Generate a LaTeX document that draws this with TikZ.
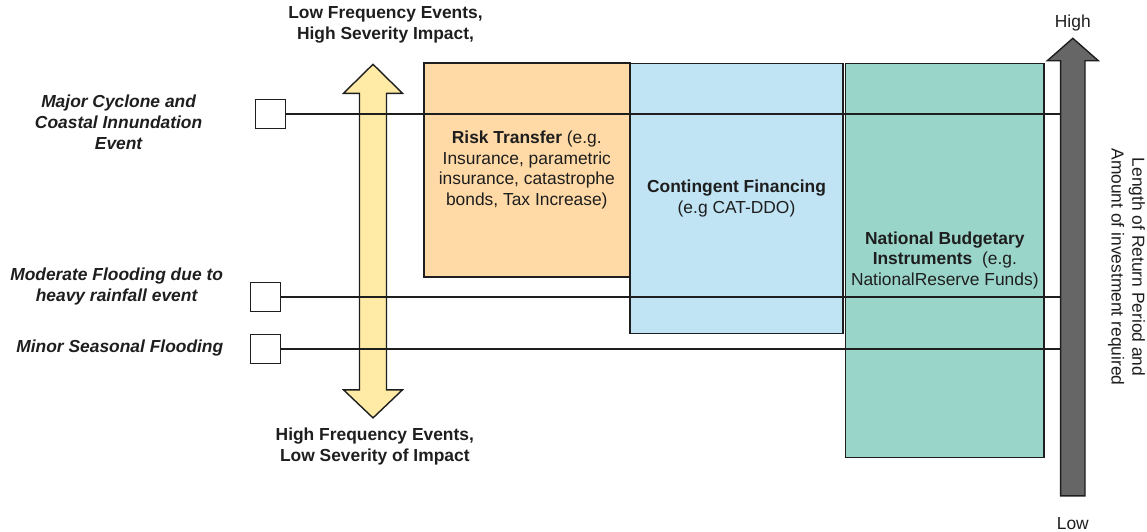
\documentclass[tikz,border=0pt]{standalone}
\usepackage{fontspec}
\setmainfont{Liberation Sans}
\definecolor{orangefill}{HTML}{FFDAA6}
\definecolor{bluefill}{HTML}{C1E4F5}
\definecolor{greenfill}{HTML}{9AD5CA}
\definecolor{yellowfill}{HTML}{FFEBA5}
\definecolor{greyfill}{HTML}{666666}
\definecolor{inkc}{HTML}{1E1E1E}
\begin{document}
\begin{tikzpicture}[x=1pt,y=-1pt,
  txt/.style={font=\fontsize{17.4}{20.8}\selectfont, align=center, inner sep=0pt, text=inkc},
  evt/.style={txt, font=\fontsize{17.4}{20.8}\selectfont\bfseries\itshape},
  hdr/.style={txt, font=\fontsize{17.4}{20.8}\selectfont\bfseries},
  panel/.style={draw=inkc, line width=1.6pt, txt, inner sep=0pt},
  evbox/.style={draw=inkc, line width=1.6pt, fill=white, minimum width=30pt, minimum height=29pt, inner sep=0pt},
  link/.style={draw=inkc, line width=1.8pt},
  bigarrow/.style={draw=inkc, line width=1.4pt}
]
\useasboundingbox (0,0) rectangle (1147,531);

% panels
\node[panel, fill=orangefill, minimum width=205.8pt, minimum height=213.5pt] (rt) at (526.8,170)
  {\textbf{Risk Transfer} (e.g.\\Insurance, parametric\\insurance, catastrophe\\bonds, Tax Increase)};
\node[panel, fill=bluefill, minimum width=213.5pt, minimum height=270.3pt] (cf) at (736.5,198.5)
  {\textbf{Contingent Financing}\\(e.g CAT-DDO)};
\node[panel, fill=greenfill, minimum width=198.9pt, minimum height=394.1pt] (nb) at (944.8,260.4)
  {\textbf{National Budgetary}\\\textbf{Instruments}\ \ (e.g.\\NationalReserve Funds)};

% yellow double arrow
\draw[bigarrow, fill=yellowfill]
  (373,64.3) -- (402.5,93.3) -- (386.5,93.3) -- (386.5,389.8) -- (402.5,389.8) -- (373,417.9)
  -- (343.5,389.8) -- (359.5,389.8) -- (359.5,93.3) -- (343.5,93.3) -- cycle;

% grey arrow
\draw[bigarrow, fill=greyfill]
  (1072.8,38.3) -- (1098.3,60.7) -- (1085,60.7) -- (1085,495.8) -- (1060.6,495.8)
  -- (1060.6,60.7) -- (1047.3,60.7) -- cycle;
\coordinate (gl) at (1060.6,0);

% event squares
\node[evbox] (s1) at (270.5,114) {};
\node[evbox] (s2) at (265.5,297) {};
\node[evbox] (s3) at (265.5,349) {};

% connectors
\draw[link] (s1.east) -- (s1.east -| gl);
\draw[link] (s2.east) -- (s2.east -| gl);
\draw[link] (s3.east) -- (s3.east -| gl);

% event labels
\node[evt] (l1) at (118.6,122.4) {Major Cyclone and\\Coastal Innundation\\Event};
\node[evt] (l2) at (116.6,286.4) {Moderate Flooding due to\\heavy rainfall event};
\node[evt] (l3) at (119.8,348) {Minor Seasonal Flooding};

% frequency labels
\node[hdr] (top) at (385.5,25.2) {Low Frequency Events,\\High Severity Impact,};
\node[hdr] (bot) at (374.8,446.2) {High Frequency Events,\\Low Severity of Impact};

% axis labels
\node[txt] (hi) at (1072.8,23.3) {High};
\node[txt] (lo) at (1072.8,523.5) {Low};
\node[txt, rotate=-90] (ax) at (1126.5,267) {Length of Return Period and\\Amount of investment required};
\end{tikzpicture}
\end{document}
